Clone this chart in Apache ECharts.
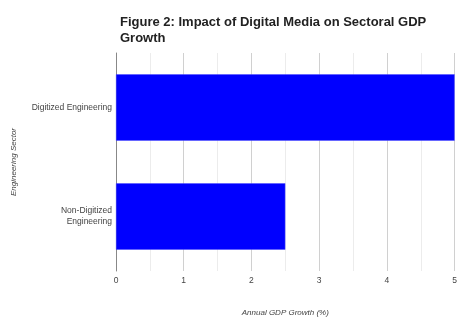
<!DOCTYPE html>
<html><head><meta charset="utf-8">
<script src="https://cdn.jsdelivr.net/npm/echarts@6/dist/echarts.min.js"></script>
<style>html,body{margin:0;padding:0;background:#fff}#c{width:460px;height:322px}</style>
</head><body><div id="c"></div>
<script>
const categories = ['Non-Digitized\nEngineering', 'Digitized Engineering'];
const growth = [2.5, 5];
const xTicks = [0, 1, 2, 3, 4, 5];
const titleText = 'Figure 2: Impact of Digital Media on Sectoral GDP\nGrowth';

const chart = echarts.init(document.getElementById('c'), null, {renderer: 'canvas'});
chart.setOption({
  animation: false,
  title: {
    text: titleText, left: 115, top: 9,
    textStyle: {fontFamily: 'Liberation Sans, Arial', fontWeight: 'bold', fontSize: 13, color: '#222', lineHeight: 16}
  },
  grid: {left: 116, right: 2, top: 53, bottom: 47},
  xAxis: {
    type: 'value', min: xTicks[0], max: xTicks[xTicks.length - 1], interval: 1,
    name: 'Annual GDP Growth (%)', nameLocation: 'middle', nameGap: 38,
    nameTextStyle: {fontStyle: 'italic', fontSize: 8, color: '#444', fontFamily: 'Liberation Sans, Arial'},
    axisLine: {show: false}, axisTick: {show: false},
    axisLabel: {fontSize: 8.5, color: '#444', margin: 5, fontFamily: 'Liberation Sans, Arial'},
    splitLine: {show: true, lineStyle: {color: '#d0d0d0', width: 1}},
    minorTick: {show: false, splitNumber: 2},
    minorSplitLine: {show: true, lineStyle: {color: '#ececec', width: 1}}
  },
  yAxis: {
    type: 'category', data: categories,
    name: 'Engineering Sector', nameLocation: 'middle', nameGap: 98, nameRotate: 90,
    nameTextStyle: {fontStyle: 'italic', fontSize: 8, color: '#444', fontFamily: 'Liberation Sans, Arial'},
    axisLine: {show: true, lineStyle: {color: '#888', width: 1}},
    axisTick: {show: false},
    axisLabel: {fontSize: 8.5, color: '#444', margin: 4, lineHeight: 11, fontFamily: 'Liberation Sans, Arial'},
    splitLine: {show: false}
  },
  series: [{
    type: 'bar', data: growth, barCategoryGap: '39%',
    itemStyle: {color: '#0000ff', borderColor: '#4d4dff', borderWidth: 0.5}
  }]
});
</script></body></html>
